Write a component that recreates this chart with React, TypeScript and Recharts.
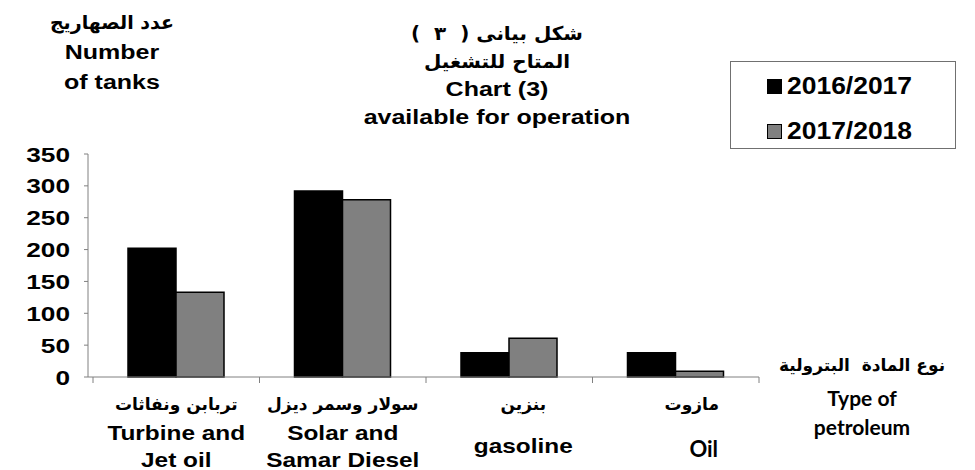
import React from 'react';
import { BarChart, Bar, XAxis, YAxis, Legend } from 'recharts';

const categoriesAr = ['تربابن ونفاثات', 'سولار وسمر ديزل', 'بنزين', 'مازوت'];
const categoriesEn = [['Turbine and', 'Jet oil'], ['Solar and', 'Samar Diesel'], ['gasoline'], ['Oil']];
const series2016 = [202, 292, 38, 38];
const series2017 = [133, 278, 61, 9];
const yTicks = [0, 50, 100, 150, 200, 250, 300, 350];
const seriesNames = ['2016/2017', '2017/2018'];

const titleLines = ['شكل بيانى (  ٣  )', 'المتاح للتشغيل', 'Chart (3)', 'available for operation'];
const yTitleLines = ['عدد الصهاريج', 'Number', 'of tanks'];
const xTitleLines = ['نوع المادة  البترولية', 'Type of', 'petroleum'];

const data = categoriesAr.map((ar, i) => ({
    ar,
    v2016: series2016[i],
    v2017: series2017[i],
}));

const W = 975;
const H = 470;
const MARGIN = { top: 154, right: 216, bottom: 0, left: 0 };
const Y_AXIS_W = 88;
const X_AXIS_H = 93;
const X_PAD = 5;
const BAND = (W - MARGIN.right - Y_AXIS_W - X_PAD) / categoriesAr.length;

// the reference text is stretched sideways
const STRETCH = 1.25;

const ARIAL = '"Liberation Sans", Arial, "DejaVu Sans", sans-serif';
const ARABIC = '"DejaVu Sans", sans-serif';
const CALIBRI = 'Lato, "Liberation Sans", sans-serif';

const XTick = (props: any) => {
    const { x, y, payload, index } = props;
    const i = payload.index ?? index;
    const en: string[] = categoriesEn[i];
    const isOil = i === 3;
    return (
        <g>
            <line x1={x - BAND / 2} y1={y} x2={x - BAND / 2} y2={y + 6} stroke="#808080" />
            {i === categoriesAr.length - 1 && (
                <line x1={x + BAND / 2} y1={y} x2={x + BAND / 2} y2={y + 6} stroke="#808080" />
            )}
            <text x={x + (isOil ? 16 : i === 2 ? 14 : 0)} y={y + 27} textAnchor="middle" dominantBaseline="central"
                fontFamily={ARABIC} fontWeight="bold" fontSize={17} fill="#000">
                {categoriesAr[i]}
            </text>
            {en.length === 2 ? (
                en.map((line, k) => (
                    <g key={k} transform={`translate(${x},${y + 56 + k * 27}) scale(1.22,1)`}>
                        <text x={0} y={0} textAnchor="middle" dominantBaseline="central"
                            fontFamily={ARIAL} fontWeight="bold" fontSize={20} fill="#000">
                            {line}
                        </text>
                    </g>
                ))
            ) : isOil ? (
                <text x={x + 28} y={y + 71} textAnchor="middle" dominantBaseline="central"
                    fontFamily={CALIBRI} fontWeight="bold" fontSize={22} fill="#000">
                    {en[0]}
                </text>
            ) : (
                <g transform={`translate(${x + 14},${y + 69}) scale(1.22,1)`}>
                    <text x={0} y={0} textAnchor="middle" dominantBaseline="central"
                        fontFamily={ARIAL} fontWeight="bold" fontSize={20} fill="#000">
                        {en[0]}
                    </text>
                </g>
            )}
        </g>
    );
};

const YTick = (props: any) => {
    const { x, y, payload } = props;
    return (
        <g transform={`translate(${x},${y}) scale(${STRETCH},1)`}>
            <text x={0} y={0} textAnchor="end" dominantBaseline="central"
                fontFamily={ARIAL} fontWeight="bold" fontSize={21} fill="#000">
                {payload.value}
            </text>
        </g>
    );
};

const LegendBox = () => (
    <div style={{
        width: 226, height: 88, border: '1px solid #707070', boxSizing: 'border-box',
        fontFamily: ARIAL, fontWeight: 'bold', fontSize: 23, color: '#000',
    }}>
        {seriesNames.map((name, i) => (
            <div key={name} style={{ position: 'absolute', left: 37, top: i === 0 ? 11 : 56, display: 'flex', alignItems: 'center', height: 28 }}>
                <span style={{
                    display: 'inline-block', width: 13, height: 13, marginRight: 5,
                    background: i === 0 ? '#000' : '#808080', border: '1px solid #000',
                }} />
                <span style={{ display: 'inline-block', transform: 'scaleX(1.15)', transformOrigin: 'left center' }}>{name}</span>
            </div>
        ))}
    </div>
);

const Txt = ({ x, y, children, size = 20, font = ARIAL, rtl = false, stretch = STRETCH }: any) => (
    <div dir={rtl ? 'rtl' : 'ltr'} style={{
        position: 'absolute', left: x, top: y, transform: `translate(-50%, -50%) scaleX(${stretch})`,
        whiteSpace: 'pre', fontFamily: font, fontWeight: 'bold', fontSize: size, lineHeight: 1, color: '#000',
    }}>
        {children}
    </div>
);

export default function App() {
    return (
        <div style={{ position: 'absolute', left: 0, top: 0, width: W, height: H, background: '#fff' }}>
            <BarChart width={W} height={H} data={data} margin={MARGIN} barGap={0} barSize={48}>
                <XAxis dataKey="ar" height={X_AXIS_H} axisLine={{ stroke: '#808080' }} tickLine={false}
                    tickSize={0} tickMargin={0} tick={<XTick />} interval={0} padding={{ left: X_PAD, right: 0 }} />
                <YAxis width={Y_AXIS_W} domain={[0, 350]} ticks={yTicks} interval={0}
                    axisLine={{ stroke: '#808080' }} tickLine={{ stroke: '#808080' }} tickSize={4} tickMargin={14}
                    tick={<YTick />} />
                <Legend layout="vertical" align="center" verticalAlign="middle" content={<LegendBox />}
                    wrapperStyle={{ left: 730, top: 61, width: 226, height: 88 }} />
                <Bar dataKey="v2016" name={seriesNames[0]} fill="#000" stroke="#000" strokeWidth={1.5} isAnimationActive={false} />
                <Bar dataKey="v2017" name={seriesNames[1]} fill="#808080" stroke="#000" strokeWidth={1.5} isAnimationActive={false} />
            </BarChart>

            {titleLines.map((t, i) => (
                <Txt key={t} x={497} y={33 + i * 28} rtl={i < 2} size={i < 2 ? 19 : 20}
                    font={i < 2 ? ARABIC : ARIAL} stretch={i < 2 ? 1.05 : STRETCH}>{t}</Txt>
            ))}
            {yTitleLines.map((t, i) => (
                <Txt key={t} x={112} y={22 + i * 30} rtl={i === 0} size={i === 0 ? 19 : 20}
                    font={i === 0 ? ARABIC : ARIAL} stretch={i === 0 ? 1 : STRETCH}>{t}</Txt>
            ))}
            {xTitleLines.map((t, i) => (
                <Txt key={t} x={862} y={i === 0 ? 365 : 397 + (i - 1) * 29} rtl={i === 0}
                    size={i === 0 ? 17 : 21} font={i === 0 ? ARABIC : CALIBRI} stretch={1}>{t}</Txt>
            ))}
        </div>
    );
}
